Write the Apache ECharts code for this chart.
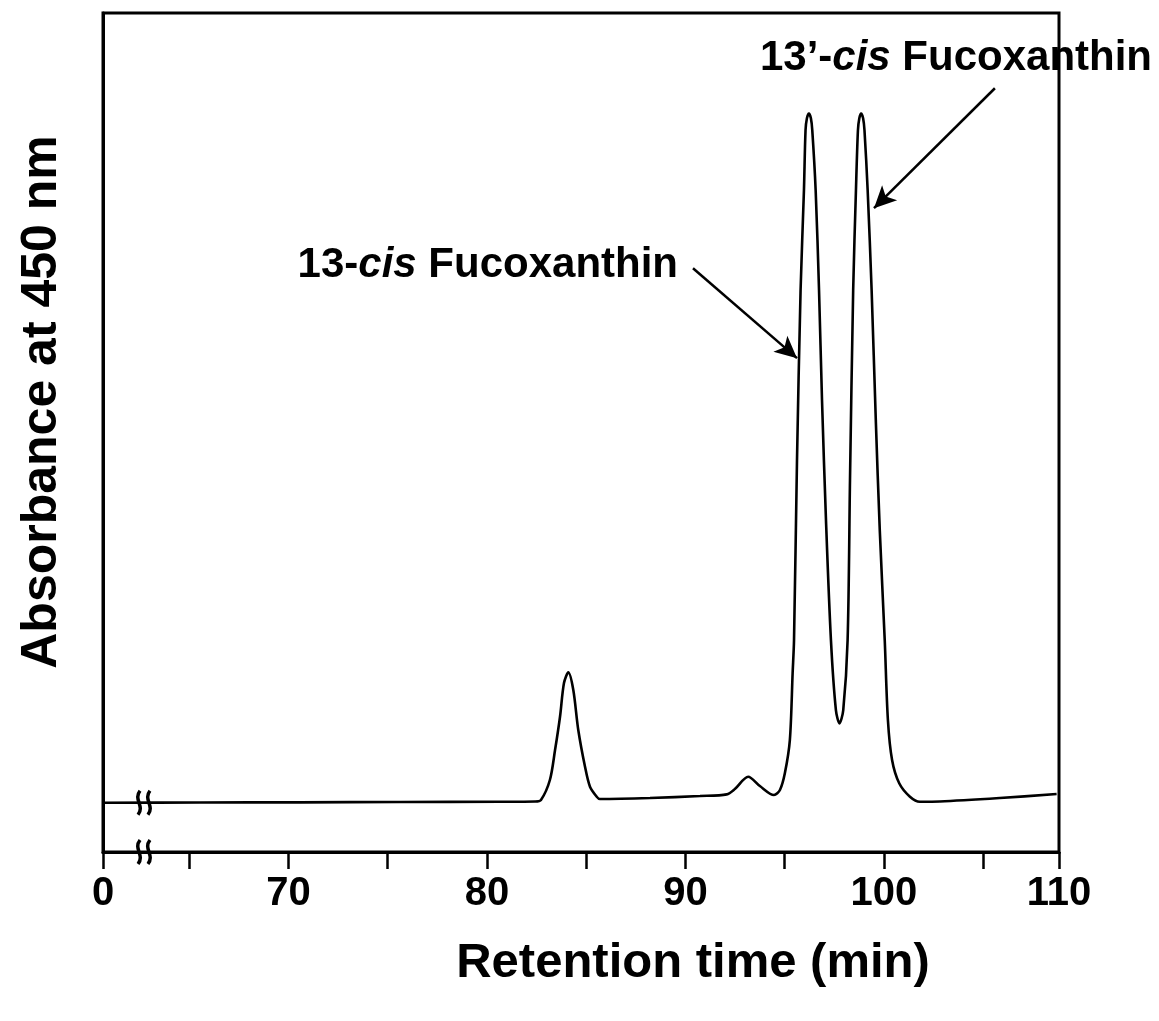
<!DOCTYPE html>
<html>
<head>
<meta charset="utf-8">
<style>
html,body{margin:0;padding:0;background:#fff;}
#chart{width:1159px;height:1021px;}
</style>
<script src="https://cdn.jsdelivr.net/npm/echarts@6/dist/echarts.min.js"></script>
</head>
<body>
<div id="chart"></div>
<script>
// Retention time (min) and absorbance (arbitrary units)
const retentionTime = [60.66,65.54,70.58,75.62,80.65,82.42,82.72,83.17,83.43,83.68,83.88,84.10,84.35,84.60,84.94,85.19,85.53,85.69,88.21,90.73,92.08,92.49,93.16,93.75,94.46,94.76,95.01,95.26,95.40,95.47,95.62,95.80,95.97,96.05,96.12,96.22,96.32,96.39,96.56,96.73,96.88,97.08,97.33,97.58,97.76,97.95,98.17,98.29,98.45,98.59,98.69,98.76,98.85,98.95,99.02,99.18,99.38,99.59,99.79,100.04,100.20,100.41,100.77,101.31,101.81,102.82,105.84,108.70];
const absorbance = [5.87,5.90,5.92,5.96,5.99,6.02,6.20,8.58,12.15,16.12,20.14,21.41,19.30,14.54,10.16,7.78,6.59,6.31,6.43,6.67,6.87,7.51,8.97,7.86,6.79,7.39,9.41,13.34,21.33,25.26,46.71,66.96,78.88,86.02,87.45,88.01,87.45,86.02,78.88,66.96,53.85,39.56,25.26,16.92,15.33,16.92,25.26,44.32,66.96,78.88,86.02,87.45,88.01,87.45,86.02,78.88,66.96,51.47,38.37,25.26,15.73,10.96,8.19,6.59,5.99,6.02,6.43,6.91];

// Axis (broken axis: left end labelled 0, right end labelled 110)
const xMin = 60.655, xMax = 108.82;
const xTickValues = [60.655,65,70,75,80,85,90,95,100,105,108.82];
const xLabelValues = [60.655,70,80,90,100,108.82];
const xTickLabels = ['0','70','80','90','100','110'];

// Axis break marks (time, level)
const breakTimes = [62.47, 62.97];
const breakLevels = [5.87, 0];

// Annotation arrows: [startTime, startAbs, tipTime, tipAbs]
const arrow13cis = [90.38, 69.58, 95.62, 58.86];
const arrow13pcis = [105.59, 91.03, 99.50, 76.73];

const FONT = "'Liberation Sans', Arial, Helvetica, sans-serif";

const lineData = retentionTime.map((t, i) => [t, absorbance[i]]);
const breakData = [];
breakLevels.forEach(l => breakTimes.forEach(t => breakData.push([t, l])));

const chart = echarts.init(document.getElementById('chart'), null, {renderer: 'canvas'});

const labelMap = {};
xLabelValues.forEach((v, i) => { labelMap[v.toFixed(3)] = xTickLabels[i]; });

chart.setOption({
  animation: false,
  backgroundColor: '#fff',
  grid: {left: 103, right: 100, top: 13, bottom: 169, show: true, borderColor: '#000', borderWidth: 3, backgroundColor: 'transparent'},
  xAxis: {
    type: 'value', min: xMin, max: xMax,
    splitLine: {show: false},
    axisLine: {show: true, onZero: false, lineStyle: {color: '#000', width: 3}},
    axisTick: {show: true, inside: false, length: 17, lineStyle: {color: '#000', width: 2.5}, customValues: xTickValues},
    axisLabel: {
      show: true, margin: 22, color: '#000', fontFamily: FONT, fontWeight: 'bold', fontSize: 40,
      customValues: xLabelValues,
      formatter: v => labelMap[Number(v).toFixed(3)] || ''
    }
  },
  yAxis: {
    type: 'value', min: 0, max: 100,
    splitLine: {show: false},
    axisLine: {show: true, lineStyle: {color: '#000', width: 3}},
    axisTick: {show: false},
    axisLabel: {show: false}
  },
  graphic: [
    {type: 'text', x: 42, y: 402, rotation: Math.PI / 2,
     style: {text: 'Absorbance at 450 nm', font: 'bold 50px ' + FONT, fill: '#000', align: 'center', verticalAlign: 'middle'}},
    {type: 'text', x: 693, y: 963,
     style: {text: 'Retention time (min)', font: 'bold 49px ' + FONT, fill: '#000', align: 'center', verticalAlign: 'middle'}},
    {type: 'text', x: 678, y: 265,
     style: {text: '{a|13-}{b|cis}{a| Fucoxanthin}', align: 'right', verticalAlign: 'middle',
       rich: {a: {font: 'bold 42px ' + FONT, fill: '#000'}, b: {font: 'italic bold 42px ' + FONT, fill: '#000'}}}},
    {type: 'text', x: 1152, y: 58,
     style: {text: '{a|13\u2019-}{b|cis}{a| Fucoxanthin}', align: 'right', verticalAlign: 'middle',
       rich: {a: {font: 'bold 42px ' + FONT, fill: '#000'}, b: {font: 'italic bold 42px ' + FONT, fill: '#000'}}}}
  ],
  series: [
    {
      type: 'line', data: lineData, showSymbol: false, smooth: 0.3,
      lineStyle: {color: '#000', width: 2.6}, clip: false,
      markLine: {
        silent: true, symbol: ['none', 'arrow'], symbolSize: [16, 22],
        lineStyle: {color: '#000', width: 2.5, type: 'solid'},
        label: {show: false},
        data: [
          [{coord: [arrow13cis[0], arrow13cis[1]]}, {coord: [arrow13cis[2], arrow13cis[3]]}],
          [{coord: [arrow13pcis[0], arrow13pcis[1]]}, {coord: [arrow13pcis[2], arrow13pcis[3]]}]
        ]
      }
    },
    {
      type: 'custom', data: breakData, clip: false, silent: true, z: 5,
      renderItem: (params, api) => {
        const p = api.coord([api.value(0), api.value(1)]);
        return {
          type: 'bezierCurve',
          shape: {x1: p[0] + 1, y1: p[1] - 12, cpx1: p[0] - 6, cpy1: p[1] - 3, cpx2: p[0] + 6, cpy2: p[1] + 3, x2: p[0] - 1, y2: p[1] + 12},
          style: {stroke: '#000', lineWidth: 3.5, fill: null}
        };
      }
    }
  ]
});
</script>
</body>
</html>
